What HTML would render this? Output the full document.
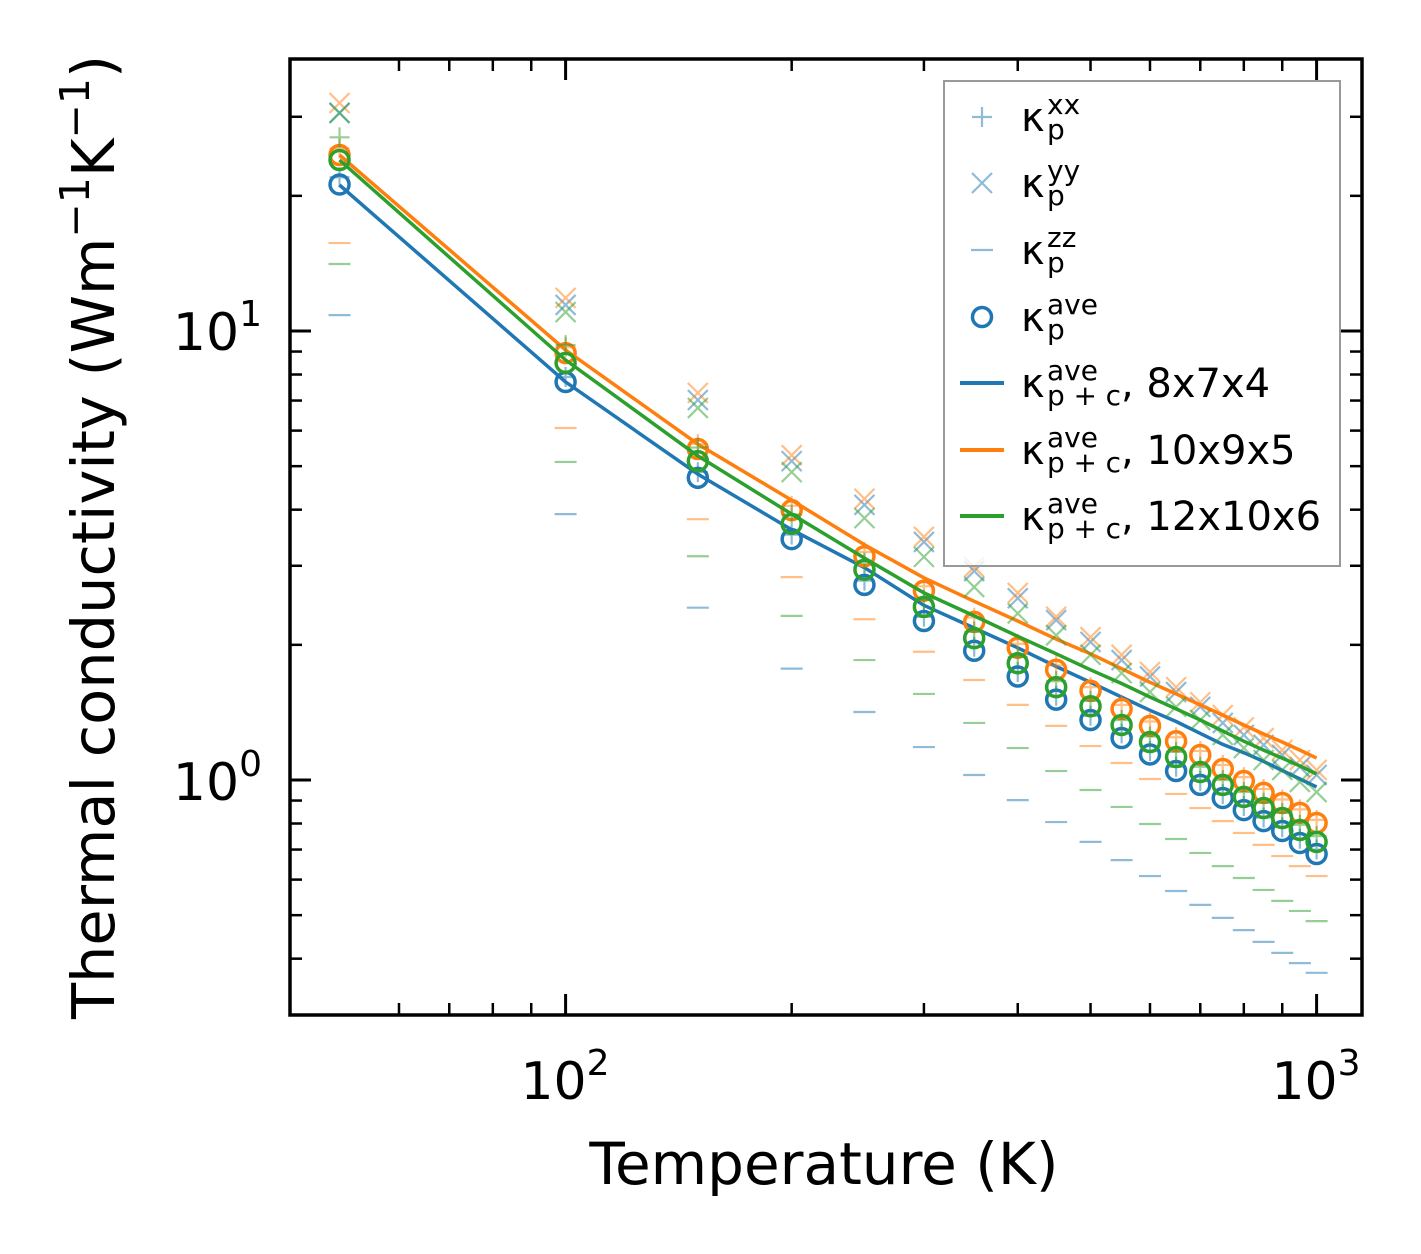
<!DOCTYPE html>
<html><head><meta charset="utf-8"><style>
html,body{margin:0;padding:0;background:#fff;}
svg{display:block;font-family:"DejaVu Sans","Liberation Sans",sans-serif;}
</style></head><body>
<svg id="chart" width="1421" height="1254" viewBox="0 0 1421 1254" xmlns="http://www.w3.org/2000/svg">
<rect width="1421" height="1254" fill="#fff"/>
<g id="ticks"></g>
<g id="plot"></g>
<rect x="290" y="59" width="1072" height="956" fill="none" stroke="#000" stroke-width="3.5"/>
<g font-size="52" text-anchor="middle">
<text x="565" y="1099">10<tspan font-size="36" dy="-24">2</tspan></text>
<text x="1316" y="1099">10<tspan font-size="36" dy="-24">3</tspan></text>
</g>
<g font-size="52" text-anchor="end">
<text x="262" y="350">10<tspan font-size="36" dy="-24">1</tspan></text>
<text x="262" y="800">10<tspan font-size="36" dy="-24">0</tspan></text>
</g>
<text x="824" y="1184" font-size="58" text-anchor="middle">Temperature (K)</text>
<text transform="translate(114,537) rotate(-90)" font-size="59" text-anchor="middle">Thermal conductivity (Wm<tspan font-size="41" dy="-25">−1</tspan><tspan dy="25">K</tspan><tspan font-size="41" dy="-25">−1</tspan><tspan dy="25">)</tspan></text>
<g>
<rect x="944" y="81" width="396" height="485" fill="#fff" fill-opacity="0.8" stroke="#999" stroke-width="2"/>
<g id="legend-items"></g>
</g>
</svg>
<script>
const temps=[50,100,150,200,250,300,350,400,450,500,550,600,650,700,750,800,850,900,950,1000];
const configs=['8x7x4','10x9x5','12x10x6'];
const colors=['#1f77b4','#ff7f0e','#2ca02c'];
const xTickMajor=[100,1000];
const xTickMinor=[60,70,80,90,200,300,400,500,600,700,800,900];
const yTickMajor=[1,10];
const yTickMinor=[0.4,0.5,0.6,0.7,0.8,0.9,2,3,4,5,6,7,8,9,20,30];
// blue 8x7x4
const aveBlue=[21.2,7.7,4.71,3.44,2.72,2.26,1.94,1.70,1.51,1.36,1.24,1.14,1.047,0.975,0.912,0.857,0.810,0.770,0.724,0.684];
const lineBlue=[21.14,7.70,4.80,3.61,2.97,2.45,2.18,1.97,1.79,1.65,1.53,1.43,1.35,1.27,1.20,1.15,1.10,1.05,1.005,0.965];
const xxBlue=[22.0,7.9,4.85,3.52,2.78,2.31,1.98,1.74,1.54,1.39,1.27,1.16,1.07,0.995,0.93,0.875,0.825,0.785,0.74,0.70];
const yyBlue=[30.6,11.43,7.02,5.13,4.10,3.39,2.92,2.54,2.27,2.03,1.85,1.70,1.57,1.455,1.34,1.26,1.197,1.137,1.069,1.026];
const zzBlue=[10.85,3.91,2.42,1.77,1.417,1.184,1.026,0.902,0.806,0.728,0.663,0.611,0.566,0.527,0.493,0.463,0.436,0.412,0.391,0.372];
// orange 10x9x5
const aveOrange=[24.66,8.93,5.46,3.99,3.15,2.64,2.25,1.97,1.76,1.58,1.44,1.32,1.22,1.137,1.058,0.995,0.936,0.889,0.845,0.802];
const lineOrange=[24.66,9.07,5.60,4.20,3.34,2.82,2.50,2.26,2.06,1.91,1.77,1.65,1.555,1.47,1.395,1.326,1.266,1.215,1.166,1.119];
const xxOrange=[25.5,9.2,5.6,4.08,3.22,2.70,2.30,2.01,1.80,1.61,1.47,1.35,1.245,1.16,1.08,1.015,0.955,0.905,0.86,0.815];
const yyOrange=[32.2,11.85,7.28,5.29,4.23,3.48,2.98,2.61,2.31,2.08,1.90,1.74,1.61,1.49,1.395,1.31,1.24,1.166,1.108,1.053];
const zzOrange=[15.7,6.08,3.81,2.83,2.28,1.93,1.67,1.47,1.32,1.19,1.091,1.005,0.931,0.866,0.81,0.762,0.717,0.677,0.643,0.611];
// green 12x10x6
const aveGreen=[24.03,8.49,5.13,3.72,2.94,2.43,2.07,1.82,1.61,1.46,1.326,1.215,1.125,1.042,0.975,0.917,0.866,0.823,0.774,0.728];
const lineGreen=[24.03,8.62,5.27,3.91,3.12,2.61,2.32,2.09,1.91,1.76,1.64,1.53,1.44,1.36,1.285,1.22,1.166,1.119,1.075,1.031];
const xxGreen=[27.0,9.3,5.5,3.9,3.05,2.52,2.14,1.88,1.66,1.50,1.36,1.25,1.155,1.07,1.0,0.94,0.89,0.845,0.795,0.75];
const yyGreen=[30.6,11.02,6.74,4.85,3.83,3.14,2.69,2.35,2.10,1.90,1.73,1.57,1.455,1.36,1.26,1.178,1.108,1.053,0.99,0.94];
const zzGreen=[14.1,5.11,3.15,2.32,1.85,1.555,1.34,1.178,1.047,0.95,0.871,0.798,0.739,0.688,0.643,0.605,0.569,0.538,0.511,0.485];

const NS='http://www.w3.org/2000/svg';
const X0=290,X1=1362,Y0=59,Y1=1015;
function xs(t){return 565.6+(Math.log10(t)-2)*751;}
function ys(v){return 780-Math.log10(v)*449;}
function mk(tag,attrs,parent){const e=document.createElementNS(NS,tag);for(const k in attrs)e.setAttribute(k,attrs[k]);parent.appendChild(e);return e;}

const tg=document.getElementById('ticks');
function tick(x1,y1,x2,y2,w,name){const l=mk('line',{x1:x1,y1:y1,x2:x2,y2:y2,stroke:'#000','stroke-width':w},tg);

}
xTickMajor.forEach(t=>{const x=xs(t);tick(x,Y1,x,Y1-21,3,'x-major-tick');tick(x,Y0,x,Y0+21,3,'x-major-tick-top');});
xTickMinor.forEach(t=>{const x=xs(t);tick(x,Y1,x,Y1-12,2.5,'x-minor-tick');tick(x,Y0,x,Y0+12,2.5,'x-minor-tick-top');});
yTickMajor.forEach(v=>{const y=ys(v);tick(X0,y,X0+21,y,3,'y-major-tick');tick(X1,y,X1-21,y,3,'y-major-tick-right');});
yTickMinor.forEach(v=>{const y=ys(v);tick(X0,y,X0+12,y,2.5,'y-minor-tick');tick(X1,y,X1-12,y,2.5,'y-minor-tick-right');});

const pg=document.getElementById('plot');
function plus(g,x,y,c){const p=mk('path',{d:`M${x-10},${y}H${x+10}M${x},${y-10}V${y+10}`,stroke:c,'stroke-width':2.2,'stroke-opacity':0.5,fill:'none'},g);

}
function cross(g,x,y,c){const p=mk('path',{d:`M${x-10},${y-10}L${x+10},${y+10}M${x-10},${y+10}L${x+10},${y-10}`,stroke:c,'stroke-width':2.2,'stroke-opacity':0.5,fill:'none'},g);

}
function dash(g,x,y,c){const p=mk('path',{d:`M${x-11},${y}H${x+11}`,stroke:c,'stroke-width':2.2,'stroke-opacity':0.5,fill:'none'},g);

}
function circ(g,x,y,c){const p=mk('circle',{cx:x,cy:y,r:9.5,stroke:c,'stroke-width':3.5,fill:'none'},g);

}

const series=[[xxBlue,yyBlue,zzBlue,aveBlue,lineBlue],[xxOrange,yyOrange,zzOrange,aveOrange,lineOrange],[xxGreen,yyGreen,zzGreen,aveGreen,lineGreen]];
series.forEach((s,i)=>{
  const g=mk('g',{},pg);
  
  
  const c=colors[i];
  temps.forEach((t,j)=>plus(g,xs(t),ys(s[0][j]),c));
  temps.forEach((t,j)=>cross(g,xs(t),ys(s[1][j]),c));
  temps.forEach((t,j)=>dash(g,xs(t),ys(s[2][j]),c));
  temps.forEach((t,j)=>circ(g,xs(t),ys(s[3][j]),c));
  const pts=temps.map((t,j)=>xs(t).toFixed(1)+','+ys(s[4][j]).toFixed(1)).join(' ');
  const pl=mk('polyline',{points:pts,fill:'none',stroke:c,'stroke-width':3.5,'stroke-linejoin':'round'},g);
  
  
});

// legend
const lg=document.getElementById('legend-items');
const rows=[117,183,250,317,383,450,516];
const sups=['xx','yy','zz','ave','ave','ave','ave'];
const names=['legend-entry-xx','legend-entry-yy','legend-entry-zz','legend-entry-ave','legend-entry-8x7x4','legend-entry-10x9x5','legend-entry-12x10x6'];
rows.forEach((c,i)=>{
  const g=mk('g',{},lg);
  
  
  if(i===0)plus(g,982,c,colors[0]);
  else if(i===1)cross(g,982,c,colors[0]);
  else if(i===2)dash(g,982,c,colors[0]);
  else if(i===3)circ(g,982,c,colors[0]);
  else mk('line',{x1:960,y1:c,x2:1004,y2:c,stroke:colors[i-4],'stroke-width':4},g);
  const k=mk('text',{x:1021,y:c+14,'font-size':40},g);k.textContent='κ';
  const sp=mk('text',{x:1047,y:c-3,'font-size':28},g);sp.textContent=sups[i];
  const sb=mk('text',{x:1047,y:c+22,'font-size':28},g);
  if(i<4){sb.textContent='p';}
  else{sb.textContent='p + c';sb.setAttribute('textLength','74');
    const r=mk('text',{x:1121,y:c+14,'font-size':40},g);r.textContent=', '+configs[i-4];}
});
</script>
</body></html>
